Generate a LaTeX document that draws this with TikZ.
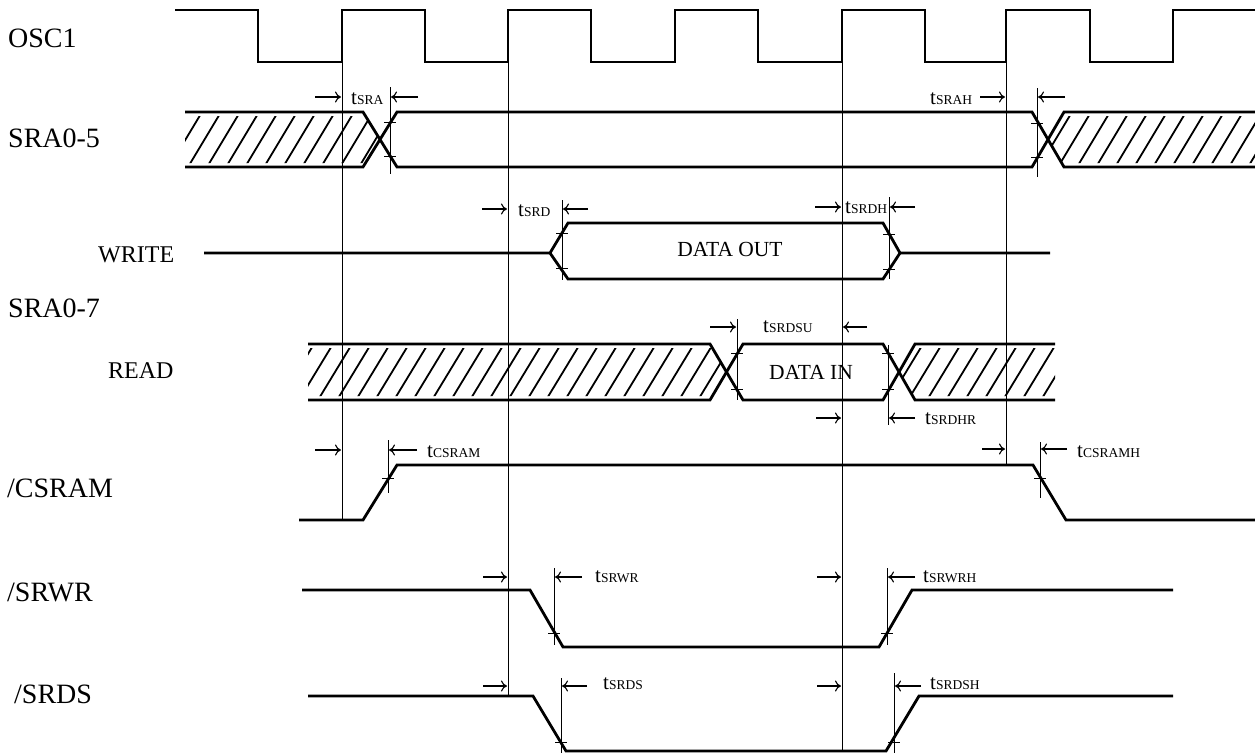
\documentclass[tikz,border=0pt]{standalone}
\usepackage{fontspec}
\setmainfont{Liberation Serif}
\usetikzlibrary{arrows.meta}
\newcommand\tlab[1]{{\fontsize{21}{21}\selectfont t}{\fontsize{13.5}{14}\selectfont #1}}
\begin{document}
\begin{tikzpicture}[x=1pt,y=-1pt,
  sig/.style={line width=2.8pt, line join=miter},
  thinln/.style={line width=0.9pt},
  hatchline/.style={line width=1.8pt},
  dimarrow/.style={line width=1.1pt, -{Computer Modern Rightarrow[length=6pt,width=11pt]}},
  biglabel/.style={anchor=base west, inner sep=0pt, font=\fontsize{28}{28}\selectfont},
  midlabel/.style={anchor=base west, inner sep=0pt, font=\fontsize{24}{24}\selectfont},
  datalabel/.style={anchor=base, inner sep=0pt, font=\fontsize{21.5}{22}\selectfont},
  tlabel/.style={anchor=base west, inner sep=0pt}
]
\useasboundingbox (0,0) rectangle (1255,753);

% ---- hatching ----
\begin{scope}
\clip (185,116) -- (365,116) -- (380,139.5) -- (365,163) -- (185,163) -- cycle;
\foreach \x in {150,169,...,400} \draw[hatchline] (\x,167) -- ({\x+33},112);
\end{scope}
\begin{scope}
\clip (1048,139.5) -- (1062,116) -- (1255,116) -- (1255,163) -- (1062,163) -- cycle;
\foreach \x in {1020,1039,...,1270} \draw[hatchline] (\x,167) -- ({\x+33},112);
\end{scope}
\begin{scope}
\clip (308,348) -- (712,348) -- (726.5,372) -- (712,396) -- (308,396) -- cycle;
\foreach \x in {280,299,...,740} \draw[hatchline] (\x,400) -- ({\x+34},344);
\end{scope}
\begin{scope}
\clip (899,372) -- (913,348) -- (1055,348) -- (1055,396) -- (913,396) -- cycle;
\foreach \x in {870,889,...,1060} \draw[hatchline] (\x,400) -- ({\x+34},344);
\end{scope}

% ---- reference lines ----
\draw[thinln] (342,63) -- (342,520);
\draw[thinln] (508,63) -- (508,695);
\draw[thinln] (842,63) -- (842,752);
\draw[thinln] (1006,63) -- (1006,465);

% ---- signals ----
\draw[sig] (175,10) -- (258,10) -- (258,62) -- (342,62) -- (342,10) -- (425,10) -- (425,62) -- (508,62) -- (508,10) -- (591,10) -- (591,62) -- (675,62) -- (675,10) -- (758,10) -- (758,62) -- (842,62) -- (842,10) -- (925,10) -- (925,62) -- (1006,62) -- (1006,10) -- (1090,10) -- (1090,62) -- (1173,62) -- (1173,10) -- (1255,10);

\draw[sig] (185,112) -- (363,112) -- (397,167) -- (1032,167) -- (1064,112) -- (1255,112);
\draw[sig] (185,167) -- (363,167) -- (397,112) -- (1032,112) -- (1064,167) -- (1255,167);

\draw[sig] (204,253) -- (550,253) -- (568,223) -- (883,223) -- (900,253) -- (1050,253);
\draw[sig] (550,253) -- (568,279) -- (883,279) -- (900,253);

\draw[sig] (308,344) -- (710,344) -- (743,400) -- (883,400) -- (915,344) -- (1055,344);
\draw[sig] (308,400) -- (710,400) -- (743,344) -- (883,344) -- (915,400) -- (1055,400);

\draw[sig] (299,520) -- (363,520) -- (397,465) -- (1033,465) -- (1066,520) -- (1255,520);
\draw[sig] (302,590) -- (530,590) -- (563,647) -- (879,647) -- (912,590) -- (1173,590);
\draw[sig] (308,696) -- (533,696) -- (566,751) -- (886,751) -- (919,696) -- (1173,696);

% ---- dimension lines and ticks ----
\draw[thinln] (390,87) -- (390,174);
\draw[thinln] (384,122) -- (396,122) (384,156) -- (396,156);
\draw[thinln] (1037,88) -- (1037,177);
\draw[thinln] (1031,123) -- (1043,123) (1031,157) -- (1043,157);
\draw[thinln] (562,200) -- (562,280);
\draw[thinln] (556,233) -- (568,233) (556,268) -- (568,268);
\draw[thinln] (889,197) -- (889,279);
\draw[thinln] (883,234) -- (895,234) (883,269) -- (895,269);
\draw[thinln] (737,319) -- (737,400);
\draw[thinln] (731,353) -- (743,353) (731,389) -- (743,389);
\draw[thinln] (888,345) -- (888,425);
\draw[thinln] (882,353) -- (894,353) (882,389) -- (894,389);
\draw[thinln] (388,440) -- (388,493);
\draw[thinln] (382,478) -- (394,478);
\draw[thinln] (1040,442) -- (1040,498);
\draw[thinln] (1034,478) -- (1046,478);
\draw[thinln] (554,568) -- (554,645);
\draw[thinln] (548,633) -- (560,633);
\draw[thinln] (887,568) -- (887,645);
\draw[thinln] (881,633) -- (893,633);
\draw[thinln] (561,678) -- (561,753);
\draw[thinln] (555,742) -- (567,742);
\draw[thinln] (894,673) -- (894,753);
\draw[thinln] (888,742) -- (900,742);

% ---- arrows ----
\draw[dimarrow] (315,97) -- (341,97);
\draw[dimarrow] (418,97) -- (391,97);
\draw[dimarrow] (980,97) -- (1005,97);
\draw[dimarrow] (1065,97) -- (1038,97);
\draw[dimarrow] (482,209) -- (507,209);
\draw[dimarrow] (588,209) -- (563,209);
\draw[dimarrow] (815,207) -- (841,207);
\draw[dimarrow] (915,207) -- (890,207);
\draw[dimarrow] (710,327) -- (736,327);
\draw[dimarrow] (867,327) -- (843,327);
\draw[dimarrow] (816,418) -- (841,418);
\draw[dimarrow] (915,418) -- (889,418);
\draw[dimarrow] (315,450) -- (341,450);
\draw[dimarrow] (417,450) -- (389,450);
\draw[dimarrow] (982,449) -- (1005,449);
\draw[dimarrow] (1067,449) -- (1041,449);
\draw[dimarrow] (483,577) -- (507,577);
\draw[dimarrow] (582,577) -- (555,577);
\draw[dimarrow] (817,577) -- (841,577);
\draw[dimarrow] (915,577) -- (888,577);
\draw[dimarrow] (483,686) -- (507,686);
\draw[dimarrow] (587,686) -- (562,686);
\draw[dimarrow] (817,686) -- (841,686);
\draw[dimarrow] (921,686) -- (895,686);

% ---- labels ----
\node[biglabel] (osc) at (8,47) {OSC1};
\node[biglabel] (sra5) at (8,147) {SRA0-5};
\node[midlabel] (write) at (98,262) {WRITE};
\node[biglabel] (sra7) at (8,317) {SRA0-7};
\node[midlabel] (read) at (108,378) {READ};
\node[biglabel] (csram) at (7,497) {/CSRAM};
\node[biglabel] (srwr) at (7,601) {/SRWR};
\node[biglabel] (srds) at (14,703) {/SRDS};
\node[datalabel] (dout) at (730,256) {DATA OUT};
\node[datalabel] (din) at (811,379) {DATA IN};

\node[tlabel] (tsra) at (351,104) {\tlab{SRA}};
\node[tlabel] (tsrah) at (930,104) {\tlab{SRAH}};
\node[tlabel] (tsrd) at (518,216) {\tlab{SRD}};
\node[tlabel] (tsrdh) at (845,213) {\tlab{SRDH}};
\node[tlabel] (tsrdsu) at (763,332) {\tlab{SRDSU}};
\node[tlabel] (tsrdhr) at (925,424) {\tlab{SRDHR}};
\node[tlabel] (tcsram) at (427,457) {\tlab{CSRAM}};
\node[tlabel] (tcsramh) at (1077,457) {\tlab{CSRAMH}};
\node[tlabel] (tsrwr) at (595,582) {\tlab{SRWR}};
\node[tlabel] (tsrwrh) at (923,582) {\tlab{SRWRH}};
\node[tlabel] (tsrds) at (603,689) {\tlab{SRDS}};
\node[tlabel] (tsrdsh) at (930,689) {\tlab{SRDSH}};
\end{tikzpicture}
\end{document}
